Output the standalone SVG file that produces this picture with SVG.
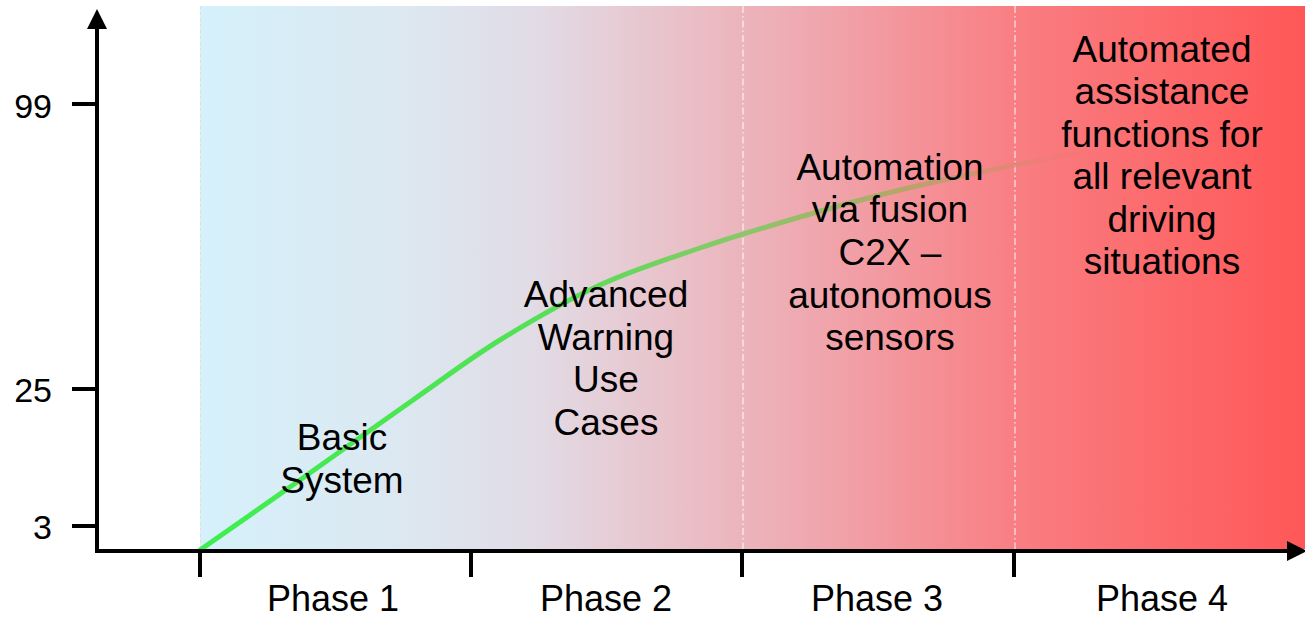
<svg xmlns="http://www.w3.org/2000/svg" width="1305" height="619" viewBox="0 0 1305 619">
  <defs>
    <linearGradient id="bgGrad" gradientUnits="userSpaceOnUse" x1="200" y1="0" x2="1305" y2="0">
      <stop offset="0" stop-color="#d5f1fb"/>
      <stop offset="0.18" stop-color="#dce8f1"/>
      <stop offset="0.30" stop-color="#e1dce6"/>
      <stop offset="0.45" stop-color="#eabdc5"/>
      <stop offset="0.55" stop-color="#efa8b0"/>
      <stop offset="0.75" stop-color="#f97c80"/>
      <stop offset="1" stop-color="#ff5757"/>
    </linearGradient>
    <linearGradient id="curveGrad" gradientUnits="userSpaceOnUse" x1="200" y1="0" x2="1095" y2="0">
      <stop offset="0" stop-color="#3fee50"/>
      <stop offset="0.40" stop-color="#55e055"/>
      <stop offset="0.60" stop-color="#88c868"/>
      <stop offset="0.78" stop-color="#b4a66a"/>
      <stop offset="0.90" stop-color="#dc8a72" stop-opacity="0.8"/>
      <stop offset="1" stop-color="#f07070" stop-opacity="0"/>
    </linearGradient>
    <marker id="arrowHead" markerUnits="userSpaceOnUse" markerWidth="22" markerHeight="22" viewBox="0 0 22 22" refX="2" refY="11" orient="auto">
      <path d="M0,1 L20,11 L0,21 Z" fill="#000"/>
    </marker>
  </defs>
  <style>
    .lbl { font-family: "Liberation Sans", Arial, sans-serif; font-size: 37px; fill: #000; text-anchor: middle; }
    .phase { font-family: "Liberation Sans", Arial, sans-serif; font-size: 36px; fill: #000; text-anchor: middle; }
    .num { font-family: "Liberation Sans", Arial, sans-serif; font-size: 34px; fill: #000; text-anchor: end; }
    .axis { stroke: #000; stroke-width: 4; fill: none; }
    .tick { stroke: #000; stroke-width: 4; }
    .divider { stroke: #ffffff; stroke-opacity: 0.75; stroke-width: 1.3; stroke-dasharray: 7 3 1.5 3; }
  </style>

  <!-- background band with phase dividers -->
  <g id="background">
    <rect x="200" y="6" width="1105" height="543" fill="url(#bgGrad)"/>
    <line x1="200.5" y1="6" x2="200.5" y2="549" stroke="#f3d2b0" stroke-width="1" stroke-dasharray="3 3" opacity="0.6"/>
    <line class="divider" x1="743" y1="6" x2="743" y2="549"/>
    <line class="divider" x1="1015" y1="6" x2="1015" y2="549"/>
  </g>

  <!-- growth curve -->
  <g id="connectors">
    <path d="M200,550 C216.7,538.3 264.5,505 300,480 C335.5,455 379.7,423.3 413,400 C446.3,376.7 468.8,359.2 500,340 C531.2,320.8 566.7,300.3 600,285 C633.3,269.7 666.7,259.3 700,248 C733.3,236.7 766.7,226.7 800,217 C833.3,207.3 865,198.5 900,190 C935,181.5 977.5,172.7 1010,166 C1042.5,159.3 1080.8,152.7 1095,150" fill="none" stroke="url(#curveGrad)" stroke-width="5" stroke-linecap="round"/>
  </g>

  <!-- axes -->
  <g id="axes">
    <line class="axis" x1="97" y1="551" x2="97" y2="27" marker-end="url(#arrowHead)"/>
    <line class="axis" x1="95" y1="551" x2="1289" y2="551" marker-end="url(#arrowHead)"/>
    <line class="tick" x1="72" y1="104" x2="97" y2="104"/>
    <line class="tick" x1="72" y1="389" x2="97" y2="389"/>
    <line class="tick" x1="72" y1="526" x2="97" y2="526"/>
    <line class="tick" x1="200" y1="551" x2="200" y2="577"/>
    <line class="tick" x1="471" y1="551" x2="471" y2="577"/>
    <line class="tick" x1="742" y1="551" x2="742" y2="577"/>
    <line class="tick" x1="1014" y1="551" x2="1014" y2="577"/>
    <text class="num" x="52" y="118">99</text>
    <text class="num" x="52" y="402">25</text>
    <text class="num" x="52" y="539">3</text>
  </g>

  <!-- phase labels -->
  <g id="phase1"><text class="phase" x="333" y="611">Phase 1</text></g>
  <g id="phase2"><text class="phase" x="606" y="611">Phase 2</text></g>
  <g id="phase3"><text class="phase" x="877" y="611">Phase 3</text></g>
  <g id="phase4"><text class="phase" x="1162" y="611">Phase 4</text></g>

  <!-- stage descriptions -->
  <g id="basic-system">
    <text class="lbl" x="342" y="450">Basic</text>
    <text class="lbl" x="342" y="493">System</text>
  </g>
  <g id="advanced-warning">
    <text class="lbl" x="606" y="307">Advanced</text>
    <text class="lbl" x="606" y="350">Warning</text>
    <text class="lbl" x="606" y="392">Use</text>
    <text class="lbl" x="606" y="435">Cases</text>
  </g>
  <g id="automation-fusion">
    <text class="lbl" x="890" y="180">Automation</text>
    <text class="lbl" x="890" y="222">via fusion</text>
    <text class="lbl" x="890" y="265">C2X –</text>
    <text class="lbl" x="890" y="308">autonomous</text>
    <text class="lbl" x="890" y="350">sensors</text>
  </g>
  <g id="automated-assistance">
    <text class="lbl" x="1162" y="62">Automated</text>
    <text class="lbl" x="1162" y="104">assistance</text>
    <text class="lbl" x="1162" y="147">functions for</text>
    <text class="lbl" x="1162" y="189">all relevant</text>
    <text class="lbl" x="1162" y="232">driving</text>
    <text class="lbl" x="1162" y="274">situations</text>
  </g>
</svg>
